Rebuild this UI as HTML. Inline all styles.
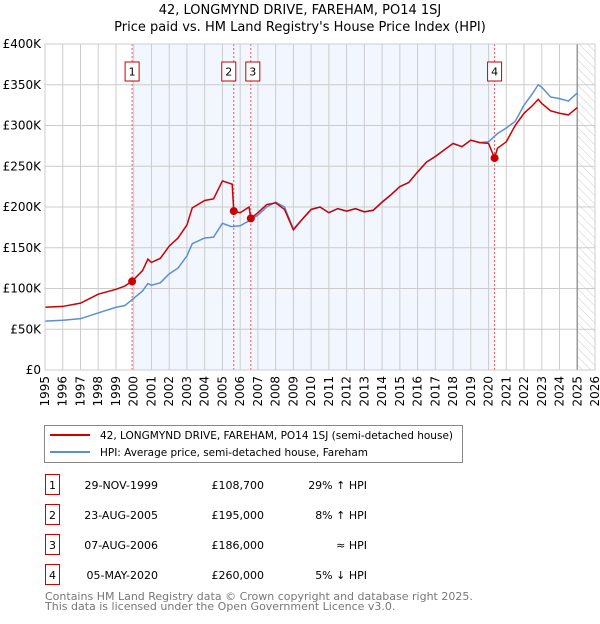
<!DOCTYPE html>
<html><head><meta charset="utf-8"><style>
body{margin:0;background:#fff;font-family:"DejaVu Sans","Liberation Sans",sans-serif;}
svg text{font-family:"DejaVu Sans","Liberation Sans",sans-serif;}
</style></head><body>
<svg id="c" width="600" height="620" xmlns="http://www.w3.org/2000/svg">
<defs><pattern id="hatch" width="6" height="6" patternUnits="userSpaceOnUse" patternTransform="rotate(-45)"><line x1="0" y1="0" x2="0" y2="6" stroke="#ccc" stroke-width="1"/></pattern></defs>
<text x="300" y="14" text-anchor="middle" font-size="13">42, LONGMYND DRIVE, FAREHAM, PO14 1SJ</text>
<text x="300" y="31" text-anchor="middle" font-size="13">Price paid vs. HM Land Registry's House Price Index (HPI)</text>
<g id="plot"></g>
<rect x="44.5" y="425.5" width="418" height="37" fill="#fff" stroke="#888"/>
<line x1="50" y1="435" x2="90" y2="435" stroke="#cc0000" stroke-width="2"/>
<text x="100" y="439" font-size="11" textLength="353" lengthAdjust="spacingAndGlyphs">42, LONGMYND DRIVE, FAREHAM, PO14 1SJ (semi-detached house)</text>
<line x1="50" y1="452" x2="90" y2="452" stroke="#5b8fd4" stroke-width="2"/>
<text x="100" y="456" font-size="11" textLength="268" lengthAdjust="spacingAndGlyphs">HPI: Average price, semi-detached house, Fareham</text>
<g id="table" font-size="11"></g>
<text x="45" y="600" font-size="11" fill="#777">Contains HM Land Registry data © Crown copyright and database right 2025.</text>
<text x="45" y="610" font-size="11" fill="#777">This data is licensed under the Open Government Licence v3.0.</text>
</svg>
<script>
const yTicks=[0,50,100,150,200,250,300,350,400];
const yTickLabels=["£0","£50K","£100K","£150K","£200K","£250K","£300K","£350K","£400K"];
const xYears=[1995,1996,1997,1998,1999,2000,2001,2002,2003,2004,2005,2006,2007,2008,2009,2010,2011,2012,2013,2014,2015,2016,2017,2018,2019,2020,2021,2022,2023,2024,2025,2026];
const hpiT=[1995,1996,1997,1998,1999,1999.5,2000,2000.5,2000.8,2001,2001.5,2002,2002.5,2003,2003.3,2004,2004.5,2005,2005.5,2006,2006.5,2007,2007.5,2008,2008.5,2009,2009.5,2010,2010.5,2011,2011.5,2012,2012.5,2013,2013.5,2014,2014.5,2015,2015.5,2016,2016.5,2017,2017.5,2018,2018.5,2019,2019.5,2020,2020.5,2021,2021.5,2022,2022.5,2022.8,2023,2023.5,2024,2024.5,2025];
const hpiV=[60,61,63,70,77,79,88,97,106,104,107,118,125,140,155,162,163,180,176,177,183,190,200,206,200,173,185,197,200,193,198,195,198,194,196,206,215,225,230,243,255,262,270,278,274,282,279,280,290,297,305,325,340,350,347,335,333,330,340];
const priceT=[1995,1996,1997,1998,1999,1999.5,1999.91,2000.5,2000.8,2001,2001.5,2002,2002.5,2003,2003.3,2004,2004.5,2005,2005.55,2005.64,2006,2006.5,2006.6,2007,2007.5,2008,2008.5,2009,2009.5,2010,2010.5,2011,2011.5,2012,2012.5,2013,2013.5,2014,2014.5,2015,2015.5,2016,2016.5,2017,2017.5,2018,2018.5,2019,2019.5,2020,2020.34,2020.5,2021,2021.5,2022,2022.5,2022.8,2023,2023.5,2024,2024.5,2025];
const priceV=[77,78,82,93,99,103,109,122,136,132,137,152,162,178,199,208,210,232,228,195,193,200,186,193,203,205,197,172,185,197,200,193,198,195,198,194,196,206,215,225,230,243,255,262,270,278,274,282,279,278,260,272,280,300,315,325,332,327,318,315,313,322];
const saleT=[1999.91,2005.64,2006.6,2020.34];
const saleV=[108.7,195,186,260];
const saleLabels=["1","2","3","4"];
const saleDates=["29-NOV-1999","23-AUG-2005","07-AUG-2006","05-MAY-2020"];
const salePrices=["£108,700","£195,000","£186,000","£260,000"];
const saleRel=["29% ↑ HPI","8% ↑ HPI","≈ HPI","5% ↓ HPI"];
const X0=45,X1=595,Y0=370,Y1=44;
const xs=t=>X0+(t-1995)/(2026-1995)*(X1-X0);
const ys=v=>Y0-v/400*(Y0-Y1);
const NS="http://www.w3.org/2000/svg";
const plot=document.getElementById('plot');
function mk(tag,at,parent){const e=document.createElementNS(NS,tag);for(const k in at)e.setAttribute(k,at[k]);(parent||plot).appendChild(e);return e;}
let e;
e=mk('rect',{x:X0,y:Y1,width:X1-X0,height:Y0-Y1,fill:'#fff'});


e=mk('rect',{x:xs(saleT[0]),y:Y1,width:xs(saleT[3])-xs(saleT[0]),height:Y0-Y1,fill:'#f2f6fe'});


e=mk('rect',{x:xs(2025),y:Y1,width:X1-xs(2025),height:Y0-Y1,fill:'url(#hatch)'});


xYears.forEach(y=>{
  e=mk('line',{x1:xs(y),x2:xs(y),y1:Y1,y2:Y0,stroke:'#ccc','stroke-width':1});
  
  
  e=mk('text',{x:0,y:0,'font-size':12,'text-anchor':'end',transform:`translate(${xs(y)+4},${Y0+6}) rotate(-90)`});
  e.textContent=y;
  
  
});
yTicks.forEach((v,i)=>{
  e=mk('line',{x1:X0,x2:X1,y1:ys(v),y2:ys(v),stroke:'#ccc','stroke-width':1});
  
  
  e=mk('text',{x:X0-4,y:ys(v)+4,'font-size':12,'text-anchor':'end'});
  e.textContent=yTickLabels[i];
  
  
});
e=mk('line',{x1:xs(2025),x2:xs(2025),y1:Y1,y2:Y0,stroke:'#999','stroke-width':1.5});


saleT.forEach((t,i)=>{
  e=mk('line',{x1:xs(t),x2:xs(t),y1:Y1,y2:Y0,stroke:'#e55','stroke-width':1,'stroke-dasharray':'2,2'});
  
  
});
e=mk('polyline',{points:hpiT.map((t,i)=>xs(t)+','+ys(hpiV[i])).join(' '),fill:'none',stroke:'#5b8fd4','stroke-width':1.5});


e=mk('polyline',{points:priceT.map((t,i)=>xs(t)+','+ys(priceV[i])).join(' '),fill:'none',stroke:'#cc0000','stroke-width':1.5});


saleT.forEach((t,i)=>{
  e=mk('circle',{cx:xs(t),cy:ys(saleV[i]),r:4,fill:'#cc0000'});
  
  
  const bx=xs(t)+(i==1?-9:(i==2?-2:-4))-3;
  e=mk('rect',{x:bx,y:62,width:14,height:19,fill:'#fff',stroke:'#cc0000'});
  
  
  e=mk('text',{x:bx+7,y:75.5,'font-size':11,'text-anchor':'middle'});
  e.textContent=saleLabels[i];
  
  
});
e=mk('rect',{x:X0,y:Y1,width:X1-X0,height:Y0-Y1,fill:'none',stroke:'#ccc'});


const tb=document.getElementById('table');
saleLabels.forEach((l,i)=>{
  const cy=483+i*30;
  e=mk('rect',{x:45.5,y:cy-8.5,width:14,height:20,fill:'#fff',stroke:'#cc0000'},tb);
  
  
  e=mk('text',{x:52.5,y:cy+6,'text-anchor':'middle'},tb);e.textContent=l;
  
  
  e=mk('text',{x:158,y:cy+6,'text-anchor':'end'},tb);e.textContent=saleDates[i];
  
  
  e=mk('text',{x:264,y:cy+6,'text-anchor':'end'},tb);e.textContent=salePrices[i];
  
  
  e=mk('text',{x:367,y:cy+6,'text-anchor':'end'},tb);e.textContent=saleRel[i];
  
  
});
</script>
</body></html>
